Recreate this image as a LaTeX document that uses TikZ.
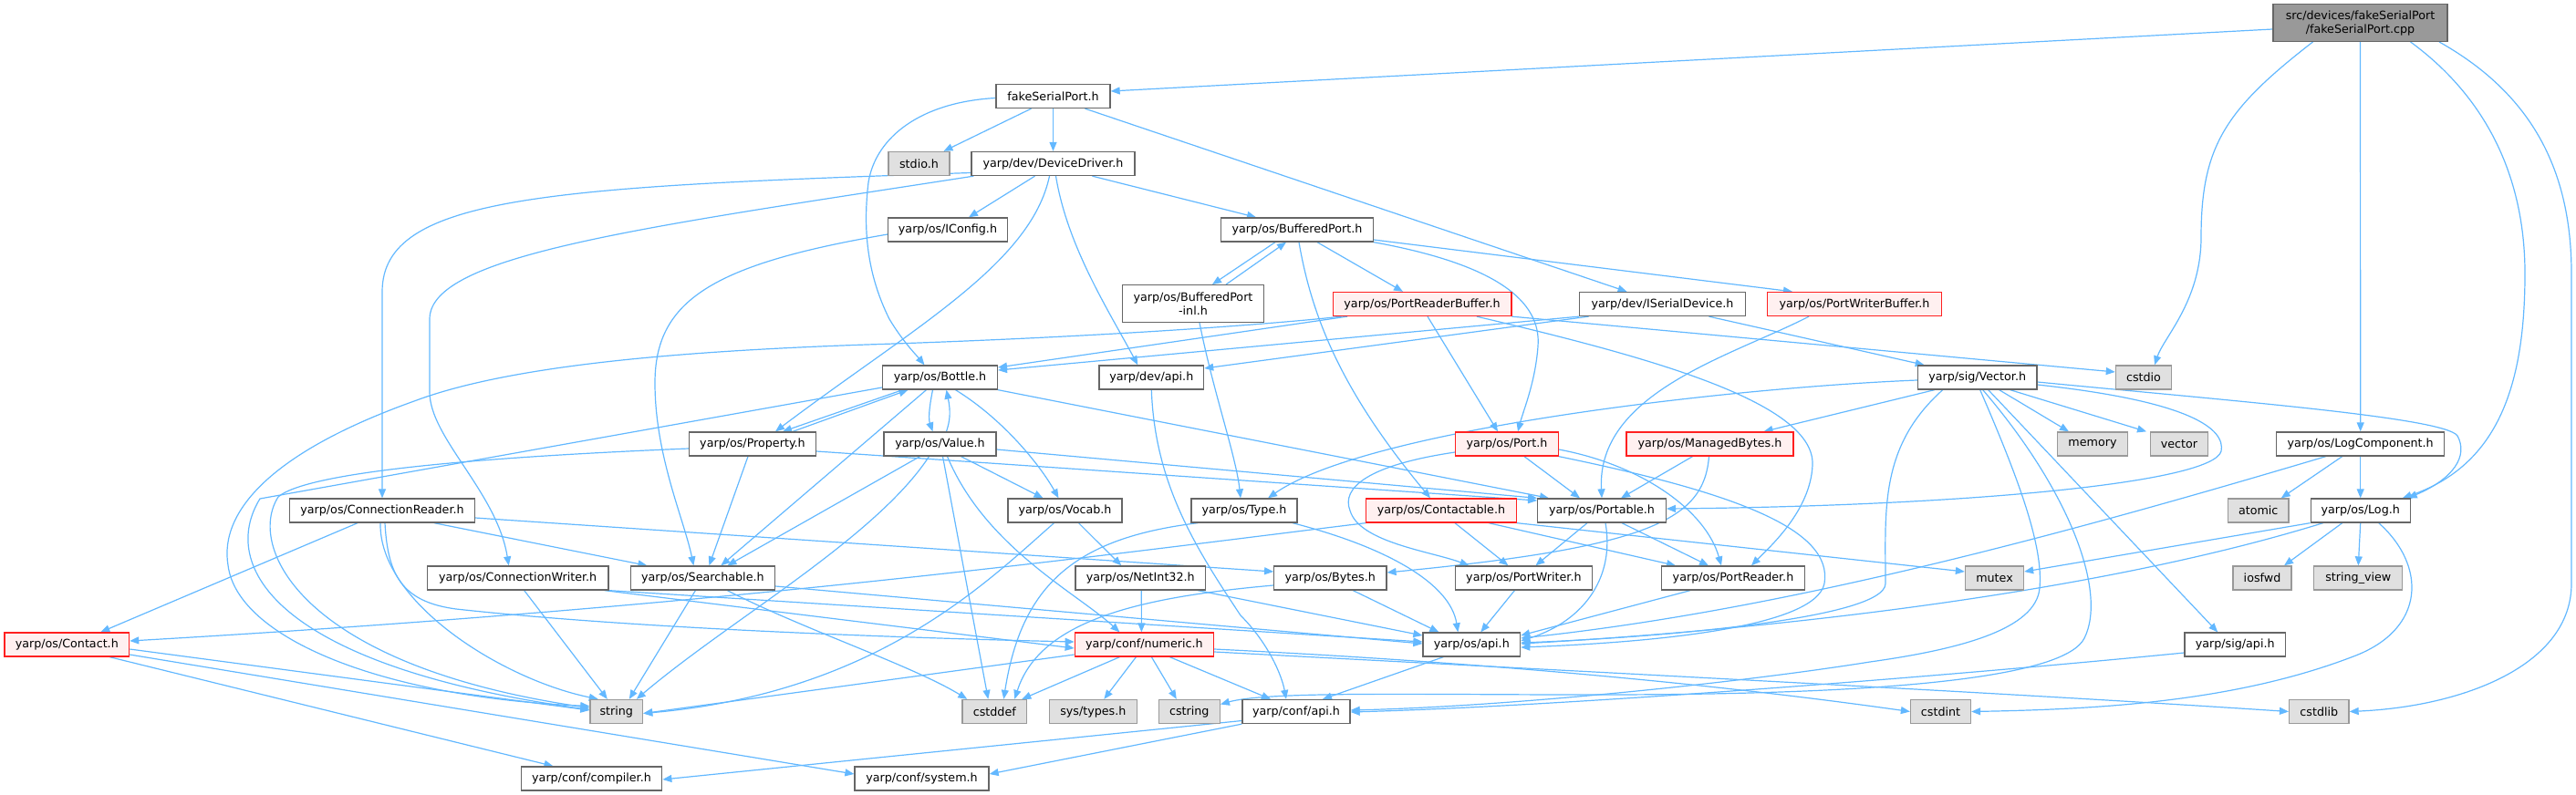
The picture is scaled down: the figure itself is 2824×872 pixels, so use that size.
\documentclass[tikz,border=0pt]{standalone}
\usepackage{fontspec}
\setmainfont{DejaVu Sans}
\usetikzlibrary{arrows.meta}
\definecolor{edgec}{HTML}{63B8FF}
\definecolor{boxline}{HTML}{666666}
\definecolor{grayline}{HTML}{999999}
\definecolor{grayfill}{HTML}{E0E0E0}
\definecolor{redline}{HTML}{FF2020}
\definecolor{redfill}{HTML}{FFF0F0}
\definecolor{rootfill}{HTML}{999999}
\definecolor{rootline}{HTML}{666666}
\newcommand{\gfont}{\fontsize{12.7pt}{15pt}\selectfont}
\pgfdeclarelayer{bg}
\pgfsetlayers{bg,main}
\tikzset{
  box/.style={draw=boxline, fill=white, line width=1.3pt, inner sep=0pt, minimum height=26pt, font=\gfont, text=black, align=center},
  nw/.style={box},
  ng/.style={box, draw=grayline, fill=grayfill},
  nr/.style={box, draw=redline, fill=redfill},
  nroot/.style={box, draw=rootline, fill=rootfill},
  e/.style={draw=edgec, line width=1.2pt, -{Triangle[length=10pt,width=8pt]}},
}
\begin{document}
\begin{tikzpicture}[x=1pt,y=-1pt]
\useasboundingbox (0,0) rectangle (2824,872);
% ---------- nodes ----------
\node[nroot, minimum width=191pt, minimum height=40.6pt] (cpp) at (2587.5,25) {src/devices/fakeSerialPort\\/fakeSerialPort.cpp};
\node[nw, minimum width=125pt] (fsp) at (1154.5,105.5) {fakeSerialPort.h};
\node[ng, minimum width=67pt] (stdio) at (1007.5,179.5) {stdio.h};
\node[nw, minimum width=179pt] (devdrv) at (1154.5,179.5) {yarp/dev/DeviceDriver.h};
\node[nw, minimum width=130.5pt] (iconfig) at (1039,252) {yarp/os/IConfig.h};
\node[nw, minimum width=166.6pt] (bport) at (1422,252) {yarp/os/BufferedPort.h};
\node[nw, minimum width=154.5pt, minimum height=40.6pt] (bportinl) at (1308,333) {yarp/os/BufferedPort\\-inl.h};
\node[nr, minimum width=195.7pt] (prb) at (1559,333.5) {yarp/os/PortReaderBuffer.h};
\node[nw, minimum width=181.8pt] (iserial) at (1822.5,333.5) {yarp/dev/ISerialDevice.h};
\node[nr, minimum width=191pt] (pwb) at (2033,333.5) {yarp/os/PortWriterBuffer.h};
\node[nw, minimum width=125.8pt] (bottle) at (1030.5,414) {yarp/os/Bottle.h};
\node[nw, minimum width=114.6pt] (devapi) at (1262.3,414) {yarp/dev/api.h};
\node[ng, minimum width=61.2pt] (cstdio) at (2350,414) {cstdio};
\node[nw, minimum width=130.5pt] (vectorh) at (2167.7,414) {yarp/sig/Vector.h};
\node[nw, minimum width=138.8pt] (property) at (825,487) {yarp/os/Property.h};
\node[nw, minimum width=123pt] (valueh) at (1030.5,487) {yarp/os/Value.h};
\node[nr, minimum width=112.4pt] (port) at (1652,487) {yarp/os/Port.h};
\node[nr, minimum width=183pt] (managed) at (1874.5,487) {yarp/os/ManagedBytes.h};
\node[ng, minimum width=77pt] (memory) at (2294,487) {memory};
\node[ng, minimum width=63pt] (stdvector) at (2389,487) {vector};
\node[nw, minimum width=184.2pt] (logcomp) at (2587.7,487) {yarp/os/LogComponent.h};
\node[nw, minimum width=202.5pt] (connreader) at (419,560) {yarp/os/ConnectionReader.h};
\node[nw, minimum width=125pt] (vocab) at (1167.5,560) {yarp/os/Vocab.h};
\node[nw, minimum width=116pt] (typeh) at (1364,560) {yarp/os/Type.h};
\node[nr, minimum width=164.4pt] (contactable) at (1580,560) {yarp/os/Contactable.h};
\node[nw, minimum width=140.6pt] (portable) at (1756,560) {yarp/os/Portable.h};
\node[ng, minimum width=66.7pt] (atomic) at (2475.7,560) {atomic};
\node[nw, minimum width=109pt] (logh) at (2587.7,560) {yarp/os/Log.h};
\node[nw, minimum width=198.8pt] (connwriter) at (567.7,634) {yarp/os/ConnectionWriter.h};
\node[nw, minimum width=158.2pt] (searchable) at (770.4,634) {yarp/os/Searchable.h};
\node[nw, minimum width=142.6pt] (netint32) at (1250.3,634) {yarp/os/NetInt32.h};
\node[nw, minimum width=123.2pt] (bytes) at (1458.3,634) {yarp/os/Bytes.h};
\node[nw, minimum width=150.2pt] (portwriter) at (1670.4,634) {yarp/os/PortWriter.h};
\node[nw, minimum width=157.2pt] (portreader) at (1900,634) {yarp/os/PortReader.h};
\node[ng, minimum width=64pt] (mutex) at (2186.5,634) {mutex};
\node[ng, minimum width=64.2pt] (iosfwd) at (2480,634) {iosfwd};
\node[ng, minimum width=97pt] (stringview) at (2585.3,634) {string\_view};
\node[nr, minimum width=136.6pt] (contact) at (73.3,707) {yarp/os/Contact.h};
\node[nr, minimum width=152.2pt] (numeric) at (1254.4,707) {yarp/conf/numeric.h};
\node[nw, minimum width=106.6pt] (osapi) at (1613.3,707) {yarp/os/api.h};
\node[nw, minimum width=110.3pt] (sigapi) at (2450.2,707) {yarp/sig/api.h};
\node[ng, minimum width=57.6pt] (stringh) at (675.8,780.5) {string};
\node[ng, minimum width=70.7pt] (cstddef) at (1090.3,780.5) {cstddef};
\node[ng, minimum width=96pt] (systypes) at (1198.3,780.5) {sys/types.h};
\node[ng, minimum width=67pt] (cstring) at (1303.8,780.5) {cstring};
\node[nw, minimum width=118pt] (confapi) at (1421,780.5) {yarp/conf/api.h};
\node[ng, minimum width=66pt] (cstdint) at (2127.5,780.5) {cstdint};
\node[ng, minimum width=65.4pt] (cstdlib) at (2542.3,780.5) {cstdlib};
\node[nw, minimum width=154.5pt] (compiler) at (648.5,854) {yarp/conf/compiler.h};
\node[nw, minimum width=147pt] (systemh) at (1010.5,854) {yarp/conf/system.h};
% ---------- edges ----------
\begin{pgfonlayer}{bg}
% root
\draw[e] ([yshift=-7pt]cpp.west) -- ([yshift=5.5pt]fsp.east);
\draw[e] ([xshift=-52pt]cpp.south) .. controls (2440,120) and (2413,160) .. (2413,260) .. controls (2413,330) and (2372,370) .. ([xshift=12pt]cstdio.north);
\draw[e] (cpp.south) -- (logcomp.north);
\draw[e] ([xshift=55pt]cpp.south) .. controls (2730,110) and (2768,200) .. (2768,300) .. controls (2768,420) and (2740,510) .. ([xshift=46pt]logh.north);
\draw[e] ([xshift=86.5pt]cpp.south) .. controls (2770,100) and (2819,180) .. (2819,300) -- (2819,640) .. controls (2819,730) and (2700,775) .. (cstdlib.east);
% fakeSerialPort.h
\draw[e] ([xshift=-24pt]fsp.south) -- ([xshift=27pt]stdio.north);
\draw[e] (fsp.south) -- (devdrv.north);
\draw[e] ([xshift=35pt]fsp.south) -- ([xshift=-39pt]iserial.north);
\draw[e] ([yshift=-2pt]fsp.west) .. controls (1010,112) and (960,150) .. (952,200) .. controls (946,250) and (950,300) .. (975,350) .. controls (990,375) and (1005,390) .. ([xshift=-17pt]bottle.north);
% DeviceDriver.h
\draw[e] ([xshift=-20pt]devdrv.south) -- ([xshift=23pt]iconfig.north);
\draw[e] ([xshift=43pt]devdrv.south) -- ([xshift=-45pt]bport.north);
\draw[e] ([xshift=3pt]devdrv.south) .. controls (1170,270) and (1215,340) .. ([xshift=-15pt]devapi.north);
\draw[e] ([xshift=-4pt]devdrv.south) .. controls (1130,290) and (1000,360) .. ([xshift=25pt]property.north);
\draw[e] ([yshift=-10pt]devdrv.west) .. controls (600,205) and (419,215) .. (419,320) -- (connreader.north);
\draw[e] ([xshift=3pt]devdrv.south west) .. controls (700,250) and (471,280) .. (471,350) -- (471,430) .. controls (471,480) and (545,540) .. ([xshift=-10pt]connwriter.north);
% IConfig
\draw[e] ([yshift=-5pt]iconfig.west) .. controls (780,290) and (718,330) .. (718,420) .. controls (718,500) and (750,570) .. ([xshift=-10pt]searchable.north);
% BufferedPort
\draw[e] ([xshift=-24pt]bport.south) -- ([xshift=21pt]bportinl.north);
\draw[e] ([xshift=36pt]bportinl.north) -- ([xshift=-12pt]bport.south);
\draw[e] ([xshift=22pt]bport.south) -- ([xshift=-21pt]prb.north);
\draw[e] ([yshift=-11pt]bport.east) -- ([xshift=-68pt]pwb.north);
\draw[e] (bport.south east) .. controls (1640,290) and (1690,330) .. (1686,380) .. controls (1683,420) and (1670,450) .. ([xshift=12pt]port.north);
\draw[e] ([xshift=2pt]bport.south) .. controls (1440,360) and (1480,440) .. ([xshift=-12pt]contactable.north);
\draw[e] ([xshift=7pt]bportinl.south) .. controls (1330,430) and (1355,500) .. ([xshift=-4pt]typeh.north);
% PortReaderBuffer
\draw[e] ([xshift=-82pt]prb.south) -- ([yshift=11pt]bottle.east);
\draw[e] ([xshift=6pt]prb.south) -- ([xshift=-10pt]port.north);
\draw[e] ([xshift=10pt]prb.south west) .. controls (1390,356) and (1200,370) .. (950,378) .. controls (750,385) and (560,400) .. (454,440) .. controls (300,495) and (240,560) .. (250,620) .. controls (260,700) and (420,765) .. ([yshift=6pt]stringh.west);
\draw[e] ([xshift=60pt]prb.south) .. controls (1800,390) and (1990,440) .. (1987,510) .. controls (1985,560) and (1940,600) .. ([xshift=20pt]portreader.north);
\draw[e] (prb.south east) -- ([yshift=6pt]cstdio.west);
% ISerialDevice
\draw[e] (iserial.south west) -- ([yshift=8pt]bottle.east);
\draw[e] ([xshift=-81pt]iserial.south) -- ([yshift=10pt]devapi.east);
\draw[e] ([xshift=51pt]iserial.south) -- ([xshift=-58pt]vectorh.north);
% PortWriterBuffer
\draw[e] ([xshift=-50pt]pwb.south) .. controls (1900,390) and (1750,430) .. (portable.north);
% Bottle
\draw[e] ([xshift=-41pt]bottle.south) -- ([xshift=33pt]property.north);
\draw[e] ([xshift=44pt]property.north) -- ([xshift=-35pt]bottle.south);
\draw[e] ([xshift=-8pt]bottle.south) .. controls (1018,450) and (1018,460) .. ([xshift=-8pt]valueh.north);
\draw[e] ([xshift=7pt]valueh.north) .. controls (1042,460) and (1042,450) .. ([xshift=7pt]bottle.south);
\draw[e] ([xshift=17pt]bottle.south) .. controls (1100,460) and (1140,510) .. ([xshift=-7pt]vocab.north);
\draw[e] ([xshift=-15pt]bottle.south) -- ([xshift=20pt]searchable.north);
\draw[e] (bottle.south east) -- ([xshift=-58pt]portable.north);
\draw[e] ([yshift=-11pt]bottle.west) -- (285,547) .. controls (240,620) and (300,730) .. ([yshift=2pt]stringh.west);
% Property
\draw[e] ([xshift=-5pt]property.south) -- ([xshift=7pt]searchable.north);
\draw[e] ([yshift=-8pt]property.east) -- ([yshift=11pt]portable.west);
\draw[e] ([yshift=-5pt]property.west) .. controls (560,500) and (340,515) .. (305,545) .. controls (270,600) and (330,730) .. ([yshift=4pt]stringh.west);
% Value
\draw[e] ([xshift=-22pt]valueh.south) -- ([xshift=27pt]searchable.north);
\draw[e] ([xshift=-12pt]valueh.south) .. controls (960,590) and (800,680) .. ([xshift=22pt]stringh.north);
\draw[e] ([xshift=3pt]valueh.south) -- ([xshift=-7pt]cstddef.north);
\draw[e] ([xshift=8pt]valueh.south) .. controls (1080,600) and (1180,650) .. ([xshift=-27pt]numeric.north);
\draw[e] ([xshift=23pt]valueh.south) -- ([xshift=-24pt]vocab.north);
\draw[e] ([yshift=-6pt]valueh.east) -- (portable.north west);
% Vocab, NetInt32, Type, Bytes
\draw[e] ([xshift=15pt]vocab.south) -- ([xshift=-21pt]netint32.north);
\draw[e] ([xshift=-12pt]vocab.south) .. controls (1080,640) and (960,760) .. ([yshift=-2pt]stringh.east);
\draw[e] ([xshift=1pt]netint32.south) -- ([xshift=-3pt]numeric.north);
\draw[e] ([xshift=63pt]netint32.south) -- ([yshift=10pt]osapi.west);
\draw[e] ([xshift=53pt]typeh.south) .. controls (1520,600) and (1590,640) .. ([xshift=-15pt]osapi.north);
\draw[e] ([xshift=-51pt]typeh.south) .. controls (1180,590) and (1120,640) .. ([xshift=10pt]cstddef.north);
\draw[e] ([yshift=-8pt]bytes.west) .. controls (1250,655) and (1140,680) .. ([xshift=22pt]cstddef.north);
\draw[e] ([xshift=25pt]bytes.south) -- ([xshift=-36pt]osapi.north);
% Contactable
\draw[e] (contactable.south west) .. controls (1200,610) and (800,665) .. ([yshift=4pt]contact.east);
\draw[e] ([xshift=15pt]contactable.south) -- ([xshift=-17pt]portwriter.north);
\draw[e] ([xshift=52pt]contactable.south) -- ([xshift=-63pt]portreader.north);
\draw[e] (contactable.south east) -- ([yshift=7pt]mutex.west);
% Port
\draw[e] ([xshift=19pt]port.south) -- ([xshift=-24pt]portable.north);
\draw[e] ([yshift=-9pt]port.west) .. controls (1500,510) and (1470,535) .. (1480,560) .. controls (1490,595) and (1570,605) .. ([xshift=-60pt]portwriter.north);
\draw[e] ([yshift=-6pt]port.east) .. controls (1800,510) and (1870,560) .. ([xshift=-13pt]portreader.north);
\draw[e] (port.south east) .. controls (1900,540) and (2010,580) .. (2000,640) .. controls (1990,690) and (1800,705) .. ([yshift=-3pt]osapi.east);
% ManagedBytes
\draw[e] ([xshift=-19pt]managed.south) -- ([xshift=21pt]portable.north);
\draw[e] ([xshift=-1pt]managed.south) .. controls (1868,570) and (1810,600) .. ([yshift=6pt]bytes.east);
% Portable, PortWriter, PortReader
\draw[e] ([xshift=22pt]portable.south) -- ([xshift=-27pt]portreader.north);
\draw[e] ([xshift=-16pt]portable.south) -- ([xshift=13pt]portwriter.north);
\draw[e] ([xshift=4pt]portable.south) .. controls (1770,630) and (1740,680) .. ([yshift=4pt]osapi.east);
\draw[e] ([xshift=-10pt]portwriter.south) -- ([xshift=10pt]osapi.north);
\draw[e] ([xshift=-47pt]portreader.south) -- ([yshift=10pt]osapi.east);
% ConnectionReader
\draw[e] ([xshift=-27pt]connreader.south) -- ([xshift=37pt]contact.north);
\draw[e] ([xshift=-2pt]connreader.south) .. controls (415,660) and (550,745) .. ([xshift=-20pt]stringh.north);
\draw[e] ([xshift=3pt]connreader.south) .. controls (425,630) and (440,660) .. (500,668) .. controls (700,690) and (1000,700) .. ([yshift=3pt]numeric.west);
\draw[e] ([xshift=57pt]connreader.south) -- ([xshift=-61pt]searchable.north);
\draw[e] ([yshift=-8pt]connreader.east) -- ([yshift=7pt]bytes.west);
% ConnectionWriter
\draw[e] ([xshift=7pt]connwriter.south) -- ([xshift=-10pt]stringh.north);
\draw[e] (connwriter.south east) -- ([yshift=3pt]osapi.west);
\draw[e] ([xshift=-5pt]connwriter.south east) -- ([yshift=-4pt]numeric.west);
% Searchable
\draw[e] ([xshift=-8pt]searchable.south) -- ([xshift=14pt]stringh.north);
\draw[e] ([yshift=-9pt]searchable.east) -- ([yshift=1pt]osapi.west);
\draw[e] ([xshift=27pt]searchable.south) .. controls (880,690) and (1000,730) .. ([xshift=-30pt]cstddef.north);
% Contact
\draw[e] ([yshift=-5pt]contact.east) -- ([yshift=1.5pt]stringh.west);
\draw[e] ([yshift=-11pt]contact.east) -- ([yshift=5pt]systemh.west);
\draw[e] ([xshift=47pt]contact.south) -- ([xshift=-42pt]compiler.north);
% numeric
\draw[e] ([xshift=-27pt]numeric.south) -- ([xshift=30pt]cstddef.north);
\draw[e] ([xshift=-9pt]numeric.south) -- ([xshift=12pt]systypes.north);
\draw[e] ([xshift=8pt]numeric.south) -- ([xshift=-14pt]cstring.north);
\draw[e] ([xshift=28pt]numeric.south) -- ([xshift=-28pt]confapi.north);
\draw[e] ([yshift=-11pt]numeric.west) -- ([yshift=-2pt]stringh.east);
\draw[e] ([yshift=-5pt]numeric.east) .. controls (1700,730) and (1950,760) .. (cstdint.west);
\draw[e] ([yshift=-8pt]numeric.east) .. controls (1800,740) and (2200,760) .. (cstdlib.west);
% os/api, conf/api, dev/api, sig/api
\draw[e] ([xshift=-31pt]osapi.south) -- ([xshift=29pt]confapi.north);
\draw[e] (confapi.south west) -- ([yshift=5pt]systemh.east);
\draw[e] ([yshift=-10pt]confapi.west) -- ([yshift=-1pt]compiler.east);
\draw[e] (devapi.south) .. controls (1266,530) and (1310,600) .. (1360,675) .. controls (1390,705) and (1405,740) .. ([xshift=-11pt]confapi.north);
\draw[e] ([yshift=-9pt]sigapi.west) .. controls (2100,745) and (1700,775) .. ([yshift=-0.5pt]confapi.east);
% LogComponent, Log
\draw[e] ([xshift=-20pt]logcomp.south) -- ([xshift=25pt]atomic.north);
\draw[e] (logcomp.south) -- (logh.north);
\draw[e] ([xshift=-38pt]logcomp.south) .. controls (2250,590) and (1950,670) .. ([yshift=7pt]osapi.east);
\draw[e] (logh.south west) -- ([yshift=7pt]mutex.east);
\draw[e] ([xshift=-20pt]logh.south) -- ([xshift=24pt]iosfwd.north);
\draw[e] (logh.south) -- (stringview.north);
\draw[e] ([xshift=-41pt]logh.south) .. controls (2300,650) and (1950,690) .. ([yshift=1pt]osapi.east);
\draw[e] ([xshift=20pt]logh.south) .. controls (2660,620) and (2660,690) .. (2580,720) .. controls (2450,770) and (2300,778) .. (cstdint.east);
% Vector
\draw[e] ([xshift=-47pt]vectorh.south) -- ([xshift=59pt]managed.north);
\draw[e] ([xshift=24pt]vectorh.south) -- ([xshift=-26pt]memory.north);
\draw[e] ([xshift=36pt]vectorh.south) -- ([xshift=-36pt]stdvector.north);
\draw[e] ([xshift=12pt]vectorh.south) -- ([xshift=-19pt]sigapi.north);
\draw[e] ([yshift=-8pt]vectorh.east) .. controls (2400,440) and (2440,470) .. (2435,495) .. controls (2425,530) and (2150,555) .. ([yshift=2pt]portable.east);
\draw[e] ([yshift=-5pt]vectorh.east) .. controls (2450,440) and (2680,458) .. (2694,478) .. controls (2706,500) and (2690,525) .. ([xshift=52pt]logh.north);
\draw[e] ([yshift=-3pt]vectorh.west) .. controls (1900,425) and (1500,470) .. ([xshift=26pt]typeh.north);
\draw[e] ([xshift=-38pt]vectorh.south) .. controls (2060,490) and (2067,560) .. (2067,640) .. controls (2067,680) and (1800,700) .. ([yshift=2pt]osapi.east);
\draw[e] ([xshift=3pt]vectorh.south) .. controls (2215,530) and (2240,600) .. (2236,645) .. controls (2232,690) and (2150,712) .. (2050,726) .. controls (1900,750) and (1650,775) .. ([yshift=1.5pt]confapi.east);
\draw[e] ([xshift=6pt]vectorh.south) .. controls (2270,540) and (2310,650) .. (2285,700) .. controls (2265,740) and (2100,757) .. (1874,761) .. controls (1650,765) and (1400,755) .. ([yshift=8pt]cstring.east);
\end{pgfonlayer}
\end{tikzpicture}
\end{document}
